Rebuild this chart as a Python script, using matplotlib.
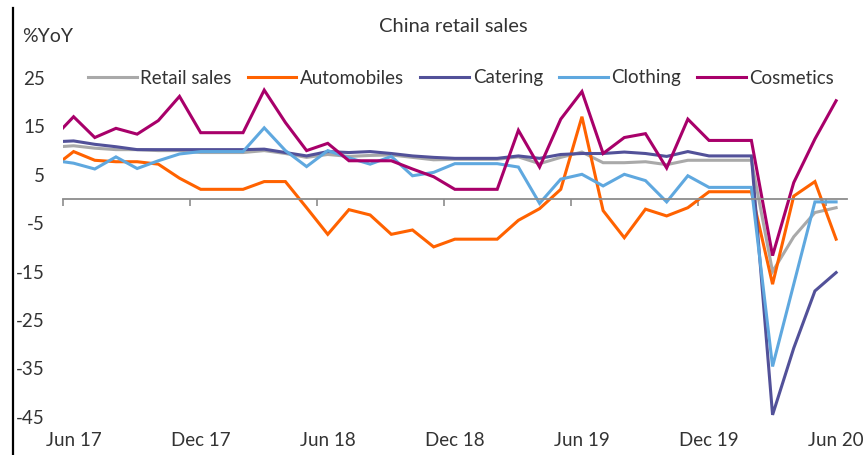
import matplotlib
matplotlib.use("Agg")
import matplotlib.pyplot as plt
from matplotlib.lines import Line2D

# Monthly data, May 2017 (first point, partly clipped) to Jun 2020
months = ["May 17", "Jun 17", "Jul 17", "Aug 17", "Sep 17", "Oct 17", "Nov 17", "Dec 17",
          "Jan 18", "Feb 18", "Mar 18", "Apr 18", "May 18", "Jun 18", "Jul 18", "Aug 18",
          "Sep 18", "Oct 18", "Nov 18", "Dec 18", "Jan 19", "Feb 19", "Mar 19", "Apr 19",
          "May 19", "Jun 19", "Jul 19", "Aug 19", "Sep 19", "Oct 19", "Nov 19", "Dec 19",
          "Jan 20", "Feb 20", "Mar 20", "Apr 20", "May 20", "Jun 20"]

retail_sales = [10.7, 11.0, 10.5, 10.2, 10.2, 10.0, 10.0, 9.6, 9.6, 9.6, 10.0, 9.4, 8.6, 9.2,
                8.8, 9.0, 9.1, 8.6, 8.1, 8.2, 8.2, 8.2, 8.7, 7.3, 8.6, 9.7, 7.5, 7.5, 7.7, 7.1,
                8.0, 8.0, 8.0, 8.0, -15.0, -7.8, -2.8, -1.8]
automobiles = [6.4, 9.8, 8.0, 7.7, 7.7, 7.2, 4.3, 2.0, 2.0, 2.0, 3.6, 3.6, -1.8, -7.3,
               -2.2, -3.3, -7.3, -6.4, -9.9, -8.3, -8.3, -8.3, -4.4, -2.0, 2.0, 17.0, -2.4,
               -8.0, -2.1, -3.5, -1.8, 1.5, 1.5, 1.5, -17.6, 0.6, 3.6, -8.3]
catering = [11.8, 12.0, 11.3, 10.8, 10.2, 10.2, 10.2, 10.2, 10.2, 10.2, 10.3, 9.6, 8.9, 9.8,
            9.6, 9.8, 9.4, 8.9, 8.6, 8.4, 8.4, 8.4, 8.9, 8.4, 9.2, 9.4, 9.4, 9.7, 9.4, 8.8,
            9.8, 8.9, 8.9, 8.9, -44.6, -30.8, -19.0, -15.2]
clothing = [8.0, 7.4, 6.2, 8.7, 6.3, 7.9, 9.3, 9.8, 9.8, 9.8, 14.7, 10.0, 6.7, 10.0,
            8.5, 7.2, 8.8, 4.8, 5.5, 7.3, 7.3, 7.3, 6.6, -0.9, 4.1, 5.1, 2.7, 5.1, 3.8, -0.6,
            4.8, 2.4, 2.4, 2.4, -34.6, -17.6, -0.6, -0.6]
cosmetics = [12.4, 17.0, 12.7, 14.6, 13.4, 16.2, 21.2, 13.7, 13.7, 13.7, 22.5, 15.8, 10.0, 11.5,
             7.9, 7.9, 7.9, 6.2, 4.6, 2.0, 2.0, 2.0, 14.2, 6.6, 16.5, 22.2, 9.4, 12.7, 13.5, 6.4,
             16.5, 12.1, 12.1, 12.1, -11.7, 3.4, 12.4, 20.3]

series_names = ["Retail sales", "Automobiles", "Catering", "Clothing", "Cosmetics"]
series_values = [retail_sales, automobiles, catering, clothing, cosmetics]
series_colors = ["#A9A9A9", "#FF6200", "#525199", "#5FA8DF", "#A8006A"]

tick_labels = ["Jun 17", "Dec 17", "Jun 18", "Dec 18", "Jun 19", "Dec 19", "Jun 20"]
y_ticks = [-45, -35, -25, -15, -5, 5, 15, 25]

FONT = ["Lato", "DejaVu Sans"]
TXT = "#333333"
plt.rcParams["font.family"] = FONT

W, H = 865, 455
fig = plt.figure(figsize=(W / 100, H / 100), dpi=100)

# axes geometry (pixels)
left_px, right_px = 63, 846.7
ymin, ymax = -47, 27
px_per_unit = 4.84
y25_px = 78
top_px = y25_px - (ymax - 25) * px_per_unit
bot_px = y25_px + (25 - ymin) * px_per_unit
ax = fig.add_axes([left_px / W, 1 - bot_px / H, (right_px - left_px) / W, (bot_px - top_px) / H])

x = list(range(-1, len(months) - 1))  # index 0 = Jun 17
lines = []
for name, vals, col in zip(series_names, series_values, series_colors):
    ln, = ax.plot(x, vals, color=col, lw=2.2, label=name, solid_joinstyle="miter")
    lines.append(ln)

ax.set_xlim(-0.5, 36.5)
ax.set_ylim(ymin, ymax)

for s in ["top", "right", "left"]:
    ax.spines[s].set_visible(False)
ax.spines["bottom"].set_position(("data", 0))
ax.spines["bottom"].set_color("#8C8C8C")
ax.spines["bottom"].set_linewidth(1.3)

major = [-0.5 + 6 * k for k in range(7)]
ax.set_xticks(major)
ax.set_xticklabels([])
ax.tick_params(axis="x", direction="out", length=5, width=1.2, color="#8C8C8C")

ax.set_yticks(y_ticks)
ax.set_yticklabels([str(v) for v in y_ticks])
ax.tick_params(axis="y", length=0, pad=13, labelsize=13.5, labelcolor=TXT)

sec = ax.secondary_xaxis("bottom")
sec.spines["bottom"].set_visible(False)
sec.set_xticks([6 * k for k in range(7)])
sec.set_xticklabels(tick_labels)
sec.tick_params(length=0, pad=4, labelsize=13.5, labelcolor=TXT)

# title and unit label
fig.text(453 / W, 1 - 27 / H, "China retail sales", ha="center", va="center",
         fontsize=14.5, color=TXT)
fig.text(22 / W, 1 - 37 / H, "%YoY", ha="left", va="center", fontsize=14, color=TXT)

leg = fig.legend(handles=lines, labels=series_names, loc="center", ncol=5,
                 bbox_to_anchor=(461 / W, 1 - 78 / H), frameon=False, fontsize=13.5,
                 handlelength=2.6, handletextpad=0.2, columnspacing=0.85,
                 labelcolor=TXT, borderaxespad=0, borderpad=0)

# frame line at the left edge of the image
fig.add_artist(Line2D([12.5 / W, 12.5 / W], [0, 1 - 8 / H], color="black", lw=1.6,
                      transform=fig.transFigure))

fig.savefig("out.png", dpi=100)
